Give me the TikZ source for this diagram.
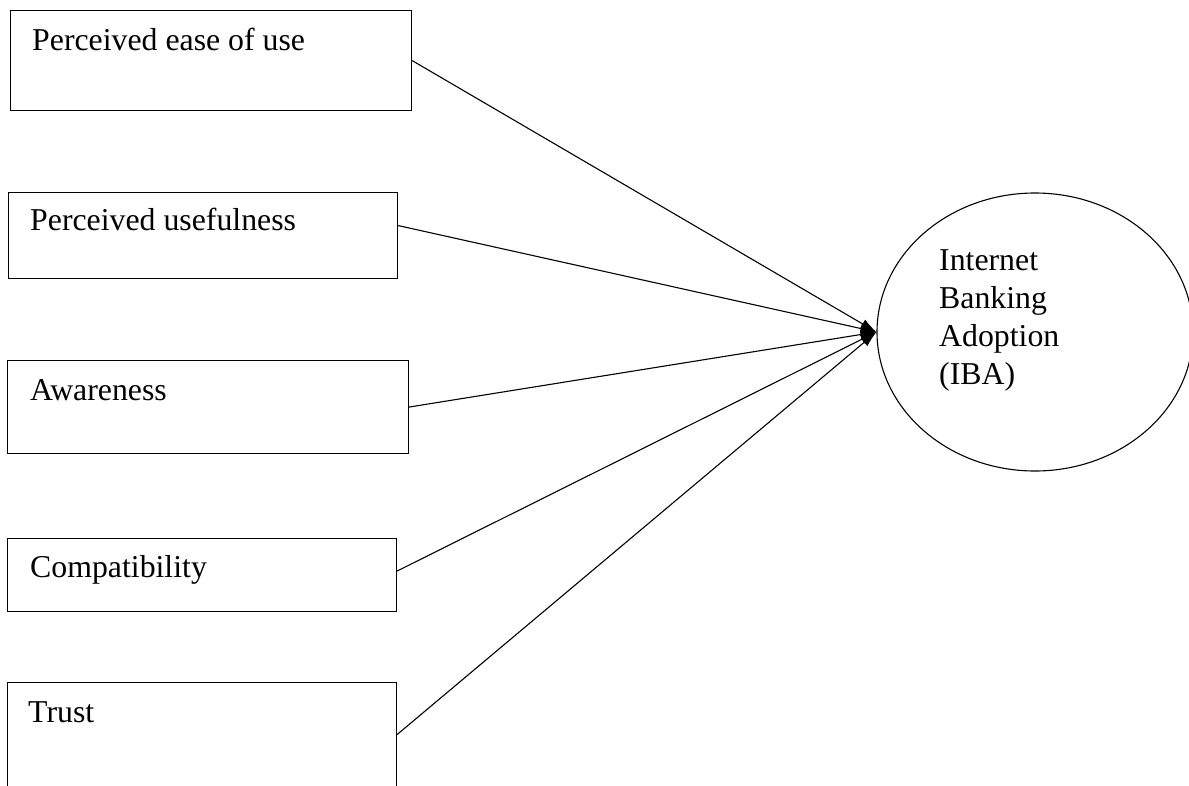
\documentclass[tikz,border=0pt]{standalone}
\usepackage{fontspec}
\setmainfont{Liberation Serif}
\usetikzlibrary{shapes.geometric,arrows.meta}
\begin{document}
\begin{tikzpicture}[x=1pt,y=-1pt,
  box/.style={draw,line width=1.1pt,rectangle,anchor=north west,inner sep=0pt},
  lbl/.style={anchor=base west,inner sep=0pt,font=\fontsize{31.8}{38}\selectfont},
  conn/.style={line width=1.1pt,-{Latex[length=16pt,width=10pt]}}]
\useasboundingbox (0,0) rectangle (1189,785);
\node[box,minimum width=401pt,minimum height=100pt] (b1) at (10,10) {};
\node[box,minimum width=389pt,minimum height=86pt] (b2) at (8,192) {};
\node[box,minimum width=401pt,minimum height=93pt] (b3) at (7,360) {};
\node[box,minimum width=389pt,minimum height=73pt] (b4) at (7,538) {};
\node[box,minimum width=389pt,minimum height=104pt] (b5) at (7,682) {};
\node[lbl] (t1) at (32,50) {Perceived ease of use};
\node[lbl] (t2) at (30,230) {Perceived usefulness};
\node[lbl] (t3) at (30,400) {Awareness};
\node[lbl] (t4) at (30,577) {Compatibility};
\node[lbl] (t5) at (28,722) {Trust};
\node[draw,ellipse,line width=1.1pt,minimum width=316pt,minimum height=278pt,inner sep=0pt] (iba) at (1035,332) {};
\node[lbl] (i1) at (939,270) {Internet};
\node[lbl] (i2) at (939,308) {Banking};
\node[lbl] (i3) at (939,346) {Adoption};
\node[lbl] (i4) at (939,384) {(IBA)};
\coordinate (tip) at (iba.west);
\draw[conn] (b1.east) -- (tip);
\draw[conn] ([yshift=10pt]b2.east) -- (tip);
\draw[conn] (b3.east) -- (tip);
\draw[conn] ([yshift=4pt]b4.east) -- (tip);
\draw[conn] (b5.east) -- (tip);
\end{tikzpicture}
\end{document}
